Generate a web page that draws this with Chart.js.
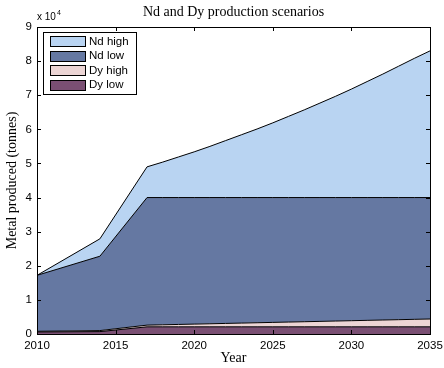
<!DOCTYPE html>
<html>
<head>
<meta charset="utf-8">
<script src="https://cdn.jsdelivr.net/npm/chart.js@4"></script>
<style>
  html, body { margin: 0; padding: 0; background: #fff; }
  #wrap { width: 444px; height: 368px; }
</style>
</head>
<body>
<div id="wrap"><canvas id="myChart" width="444" height="368"></canvas></div>
<script>
// years and the top edge of each stacked band (tonnes)
var years = [2010, 2014, 2017, 2018, 2019, 2020, 2021, 2022, 2023, 2024, 2025, 2026, 2027, 2028, 2029, 2030, 2031, 2032, 2033, 2034, 2035];
var ndHigh = [17200, 27900, 49000, 50400, 51900, 53400, 55000, 56700, 58400, 60100, 61900, 63800, 65700, 67700, 69700, 71800, 74000, 76200, 78500, 80800, 83000];
var ndLow  = [17200, 22800, 40000, 40000, 40000, 40000, 40000, 40000, 40000, 40000, 40000, 40000, 40000, 40000, 40000, 40000, 40000, 40000, 40000, 40000, 40000];
var dyHigh = [800, 1000, 2600, 2700, 2800, 2900, 3000, 3100, 3200, 3300, 3400, 3500, 3600, 3700, 3800, 3900, 4000, 4100, 4200, 4300, 4400];
var dyLow  = [600, 700, 2100, 2100, 2100, 2100, 2100, 2100, 2100, 2100, 2100, 2100, 2100, 2100, 2100, 2100, 2100, 2100, 2100, 2100, 2100];

var xTicks = [2010, 2015, 2020, 2025, 2030, 2035];
var yTicks = [0, 1, 2, 3, 4, 5, 6, 7, 8, 9];

var names = ["Nd high", "Nd low", "Dy high", "Dy low"];
var colors = ["#b9d4f2", "#6578a2", "#ecd5d5", "#7a4f73"];

function pts(vals) {
  return years.map(function (y, i) { return { x: y, y: vals[i] }; });
}

function band(label, vals, color, fill) {
  return {
    label: label,
    data: pts(vals),
    backgroundColor: color,
    borderColor: "#000",
    borderWidth: 1,
    pointRadius: 0,
    tension: 0,
    fill: fill
  };
}

var sans = "'Liberation Sans', Arial, sans-serif";
var serif = "'Liberation Serif', 'Times New Roman', serif";

// inward ticks, box, title, exponent label and legend inside the plot
var matlabBits = {
  id: "matlabBits",
  afterDraw: function (chart) {
    var ctx = chart.ctx;
    var a = chart.chartArea;
    var xs = chart.scales.x, ys = chart.scales.y;
    ctx.save();
    ctx.strokeStyle = "#000";
    ctx.lineWidth = 1;
    ctx.beginPath();
    xTicks.forEach(function (t) {
      var px = Math.round(xs.getPixelForValue(t)) + 0.5;
      ctx.moveTo(px, a.bottom); ctx.lineTo(px, a.bottom - 4);
      ctx.moveTo(px, a.top); ctx.lineTo(px, a.top + 4);
    });
    yTicks.forEach(function (t) {
      var py = Math.round(ys.getPixelForValue(t * 10000)) + 0.5;
      ctx.moveTo(a.left, py); ctx.lineTo(a.left + 4, py);
      ctx.moveTo(a.right, py); ctx.lineTo(a.right - 4, py);
    });
    ctx.stroke();
    ctx.strokeRect(Math.round(a.left) + 0.5, Math.round(a.top) + 0.5, Math.round(a.right - a.left), Math.round(a.bottom - a.top));

    // title
    ctx.fillStyle = "#000";
    ctx.font = "14px " + serif;
    ctx.textAlign = "center";
    ctx.textBaseline = "middle";
    ctx.fillText("Nd and Dy production scenarios", (a.left + a.right) / 2, 12);

    // exponent
    ctx.textAlign = "left";
    ctx.textBaseline = "alphabetic";
    ctx.font = "10px " + sans;
    ctx.fillText("x 10", a.left, 20);
    var w = ctx.measureText("x 10").width;
    ctx.font = "7px " + sans;
    ctx.fillText("4", a.left + w + 1, 15);

    // legend
    var lx = 43, ly = 32, lw = 93, lh = 62;
    ctx.fillStyle = "#fff";
    ctx.fillRect(lx, ly, lw, lh);
    ctx.strokeRect(lx + 0.5, ly + 0.5, lw, lh);
    ctx.font = "11.5px " + sans;
    ctx.textBaseline = "middle";
    names.forEach(function (n, i) {
      var cy = 41 + i * 14.6;
      ctx.fillStyle = colors[i];
      ctx.fillRect(50.5, Math.round(cy - 5) + 0.5, 35, 10);
      ctx.strokeRect(50.5, Math.round(cy - 5) + 0.5, 35, 10);
      ctx.fillStyle = "#000";
      ctx.fillText(n, 89, cy + 0.5);
    });
    ctx.restore();
  }
};

new Chart("myChart", {
  type: "line",
  data: {
    datasets: [
      band("Dy low", dyLow, colors[3], "origin"),
      band("Dy high", dyHigh, colors[2], "-1"),
      band("Nd low", ndLow, colors[1], "-1"),
      band("Nd high", ndHigh, colors[0], "-1")
    ]
  },
  options: {
    responsive: false,
    animation: false,
    layout: { autoPadding: false, padding: { top: 27, right: 14, left: 0, bottom: 0 } },
    plugins: {
      legend: { display: false },
      title: { display: false },
      tooltip: { enabled: false }
    },
    scales: {
      x: {
        type: "linear",
        min: 2010,
        max: 2035,
        afterBuildTicks: function (s) { s.ticks = xTicks.map(function (v) { return { value: v }; }); },
        afterFit: function (s) { s.height = 34; s.paddingLeft = 0; s.paddingRight = 0; },
        grid: { display: false, drawTicks: false },
        border: { display: false },
        ticks: {
          color: "#000",
          padding: 5,
          maxRotation: 0,
          font: { family: sans, size: 11.5 },
          callback: function (v) { return String(v); }
        },
        title: {
          display: true,
          text: "Year",
          color: "#000",
          padding: { top: 0, bottom: 1 },
          font: { family: serif, size: 14 }
        }
      },
      y: {
        min: 0,
        max: 90000,
        afterBuildTicks: function (s) { s.ticks = yTicks.map(function (v) { return { value: v * 10000 }; }); },
        afterFit: function (s) { s.width = 37; s.paddingTop = 0; s.paddingBottom = 0; },
        grid: { display: false, drawTicks: false },
        border: { display: false },
        ticks: {
          color: "#000",
          padding: 5,
          font: { family: sans, size: 11.5 },
          callback: function (v) { return String(v / 10000); }
        },
        title: {
          display: true,
          text: "Metal produced (tonnes)",
          color: "#000",
          padding: { top: 4, bottom: 0 },
          font: { family: serif, size: 14 }
        }
      }
    }
  },
  plugins: [matlabBits]
});
</script>
</body>
</html>
